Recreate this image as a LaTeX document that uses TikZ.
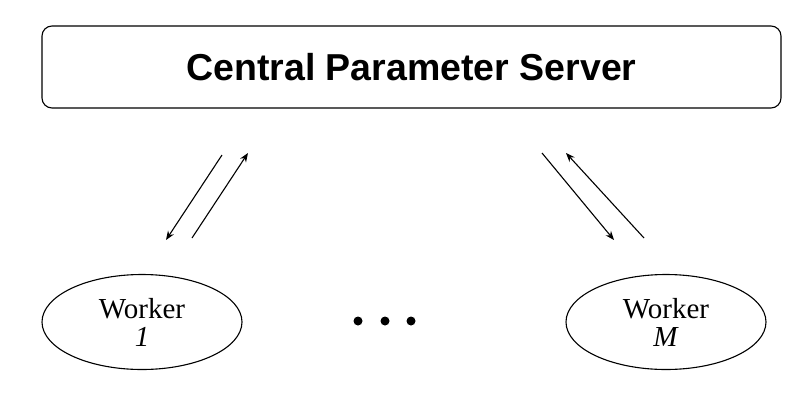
\documentclass[tikz,border=0pt]{standalone}
\usepackage{fontspec}
\setmainfont{Liberation Serif}
\setsansfont{Liberation Sans}
\usetikzlibrary{arrows.meta,shapes.geometric}
\begin{document}
\begin{tikzpicture}[x=1pt,y=-1pt,
  conn/.style={draw,line width=1.1pt,-{Stealth[length=9pt,width=7pt]}},
  worker/.style={draw,line width=1.1pt,ellipse,minimum width=200pt,minimum height=95pt,align=center,font=\fontsize{29}{30}\selectfont},
  dot/.style={circle,fill,inner sep=0pt,minimum size=9pt}]
\useasboundingbox (0,0) rectangle (811,410);
\node[draw,line width=1.1pt,rounded corners=10pt,minimum width=739pt,minimum height=82pt,font=\sffamily\bfseries\fontsize{37.5}{40}\selectfont] (srv) at (411.5,67) {Central Parameter Server};
\node[worker] (w1) at (142,322) {Worker\\[-2pt]\textit{1}};
\node[worker] (wm) at (666,322) {Worker\\[-2pt]\textit{M}};
\node[dot] (d1) at (358,321) {};
\node[dot] (d2) at (385,321) {};
\node[dot] (d3) at (411,321) {};
\coordinate (a1) at (222,155); \coordinate (a2) at (166,240);
\coordinate (b1) at (192,238); \coordinate (b2) at (248,153);
\coordinate (c1) at (542,153); \coordinate (c2) at (614,240);
\coordinate (e1) at (644,238); \coordinate (e2) at (566,153);
\draw[conn] (a1) -- (a2);
\draw[conn] (b1) -- (b2);
\draw[conn] (c1) -- (c2);
\draw[conn] (e1) -- (e2);
\end{tikzpicture}
\end{document}
